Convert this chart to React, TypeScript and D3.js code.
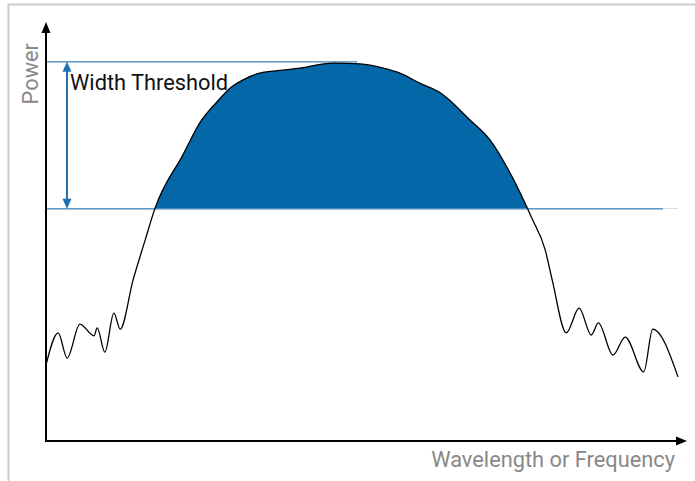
import React from "react";
import * as d3 from "d3";

// spectrum trace (arbitrary units, 0..100)
const wavelength = [
  0, 1.9, 3.3, 5.3, 7.5, 8.0, 9.2, 10.6, 11.6, 13.6, 15.5, 17.0, 21.4, 24.1,
  26.7, 28.75, 30.8, 33.4, 37.0, 39.7, 44.8, 49.1, 52.7, 55.3, 58.4, 61.6,
  66.25, 69.4, 72.0, 74.1, 75.2, 75.9, 78.0, 79.1, 81.3, 83.3, 85.2, 86.3, 88.6,
  90.5, 93.4, 94.8, 98.75,
];
const power = [
  18.1, 25.8, 19.8, 27.9, 25.1, 27.0, 21.2, 30.5, 26.7, 38.4, 48.0, 55.4, 68.3,
  76.1, 80.9, 84.2, 86.2, 87.8, 88.5, 89.0, 90.2, 90.0, 89.0, 87.8, 85.4, 83.1,
  76.6, 71.8, 65.4, 59.2, 55.6, 53.2, 45.6, 38.4, 25.8, 31.7, 25.3, 28.2, 20.5,
  24.8, 16.5, 26.7, 15.3,
];

const thresholdLevel = 55.4;
const peakLevel = 90.5;
const peakAt = 48.6;
const thresholdEnd = 96.4;

const xLabel = "Wavelength or Frequency";
const yLabel = "Power";
const annotation = "Width Threshold";

export default function App() {
  const width = 695;
  const height = 481;
  const origin = { x: 46, y: 441 };

  const x = d3.scaleLinear().domain([0, 100]).range([origin.x, 686]);
  const y = d3.scaleLinear().domain([0, 100]).range([origin.y, 22]);

  const data = wavelength.map((w, i) => ({ w, p: power[i] }));

  const line = d3
    .line<{ w: number; p: number }>()
    .x((d) => x(d.w))
    .y((d) => y(d.p))
    .curve(d3.curveMonotoneX);

  const area = d3
    .area<{ w: number; p: number }>()
    .x((d) => x(d.w))
    .y0(y(thresholdLevel))
    .y1((d) => y(d.p))
    .curve(d3.curveMonotoneX);

  const blue = "#0467a8";
  const lineBlue = "#3c82b8";
  const arrowX = 67;

  return (
    <svg
      width={width}
      height={height}
      style={{ position: "absolute", left: 0, top: 0 }}
      fontFamily="Roboto, sans-serif"
    >
      <defs>
        <clipPath id="above">
          <rect x={0} y={0} width={width} height={y(thresholdLevel)} />
        </clipPath>
      </defs>
      <rect x={0} y={0} width={width} height={height} fill="#fff" />
      {/* frame */}
      <rect x={8.5} y={4.5} width={900} height={900} fill="none" stroke="#cccccc" strokeWidth={2} />

      {/* filled part above threshold */}
      <path d={area(data)!} fill={blue} clipPath="url(#above)" />

      {/* threshold lines */}
      <line x1={x(0)} x2={x(peakAt)} y1={y(peakLevel)} y2={y(peakLevel)} stroke={lineBlue} strokeWidth={1.2} />
      <line x1={x(0)} x2={x(thresholdEnd)} y1={y(thresholdLevel)} y2={y(thresholdLevel)} stroke={lineBlue} strokeWidth={1.2} />

      {/* double arrow */}
      <line x1={arrowX} x2={arrowX} y1={y(peakLevel) + 8} y2={y(thresholdLevel) - 8} stroke="#1f70b0" strokeWidth={2} />
      <path d={`M${arrowX},${y(peakLevel)} l-4.5,10 l9,0 Z`} fill="#1f70b0" />
      <path d={`M${arrowX},${y(thresholdLevel)} l-4.5,-10 l9,0 Z`} fill="#1f70b0" />
      <text x={70} y={90} fontSize={21.8} fill="#111">
        {annotation}
      </text>

      {/* trace */}
      <path d={line(data)!} fill="none" stroke="#000" strokeWidth={1.3} />

      {/* axes */}
      <line x1={origin.x} x2={origin.x} y1={origin.y + 1} y2={30} stroke="#000" strokeWidth={2} />
      <path d={`M${origin.x},22 l-4.5,11 l9,0 Z`} fill="#000" />
      <line x1={origin.x - 1} x2={679} y1={origin.y} y2={origin.y} stroke="#000" strokeWidth={2} />
      <path d={`M687,${origin.y} l-11,-4.5 l0,9 Z`} fill="#000" />

      <text x={675} y={467} fontSize={21.8} fill="#888" textAnchor="end">
        {xLabel}
      </text>
      <text
        transform={`translate(38,43) rotate(-90)`}
        fontSize={21.8}
        fill="#888"
        textAnchor="end"
      >
        {yLabel}
      </text>
    </svg>
  );
}
